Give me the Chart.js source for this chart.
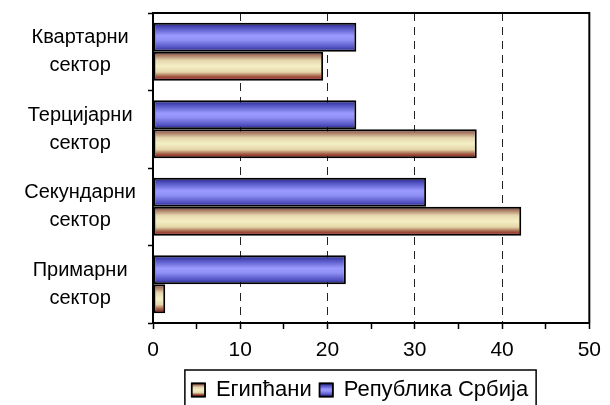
<!DOCTYPE html>
<html>
<head>
<meta charset="utf-8">
<script src="https://cdn.jsdelivr.net/npm/chart.js@4"></script>
<style>
  body { margin: 0; background: #fff; }
  #wrap { width: 610px; height: 405px; }
</style>
</head>
<body>
<div id="wrap"><canvas id="sectorChart"></canvas></div>
<script>
var sektori = [
  ["Квартарни", "сектор"],
  ["Терцијарни", "сектор"],
  ["Секундарни", "сектор"],
  ["Примарни", "сектор"]
];
var srbija = [23.3, 23.3, 31.3, 22.1];
var egipcani = [19.5, 37.1, 42.2, 1.4];

var blueStops = [[0, "#1a1a66"], [0.14, "#4848b8"], [0.45, "#9a9aff"], [0.6, "#9090f6"], [0.86, "#5050c0"], [1, "#1c1c76"]];
var creamStops = [[0, "#6a3628"], [0.12, "#a87a64"], [0.3, "#e6d8ae"], [0.5, "#f4efc6"], [0.7, "#e4d6a8"], [0.84, "#a4644c"], [1, "#8b0000"]];

function makeGrad(ctx, top, bottom, stops) {
  var g = ctx.createLinearGradient(0, top, 0, bottom);
  stops.forEach(function (s) { g.addColorStop(s[0], s[1]); });
  return g;
}

function barFill(stops, solid) {
  return function (context) {
    var el = context.element;
    if (!el || el.height == null || isNaN(el.y)) return solid;
    return makeGrad(context.chart.ctx, el.y - el.height / 2, el.y + el.height / 2, stops);
  };
}

var frame = {
  id: "frame",
  afterLayout: function (chart) {
    // legend sits under the plot, a bit right of the canvas centre
    var lg = chart.legend;
    if (!lg) return;
    var shift = 360 - (lg.left + lg.right) / 2;
    lg.left += shift;
    lg.right += shift;
  },
  afterDatasetsDraw: function (chart) {
    var a = chart.chartArea, c = chart.ctx;
    c.save();
    c.strokeStyle = "#000";
    c.lineWidth = 2;
    c.strokeRect(a.left, a.top, a.right - a.left, a.bottom - a.top);
    c.restore();
  },
  afterDraw: function (chart) {
    var lg = chart.legend, c = chart.ctx;
    if (!lg || !lg.legendHitBoxes || !lg.legendHitBoxes.length) return;
    var boxes = lg.legendHitBoxes;
    var items = lg.legendItems;
    var bw = 13, bh = 13;
    c.save();
    boxes.forEach(function (hb, i) {
      var y = hb.top + (hb.height - bh) / 2;
      var stops = items[i].text === "Египћани" ? creamStops : blueStops;
      c.fillStyle = makeGrad(c, y, y + bh, stops);
      c.fillRect(hb.left, y, bw, bh);
      c.lineWidth = 1.5;
      c.strokeStyle = "#000";
      c.strokeRect(hb.left, y, bw, bh);
    });
    var first = boxes[0], last = boxes[boxes.length - 1];
    c.lineWidth = 1.5;
    c.strokeRect(first.left - 7, 370, last.left + last.width - first.left + 15, 60);
    c.restore();
  }
};

var ctx = document.getElementById("sectorChart");

var myBarChart = new Chart(ctx, {
  type: "bar",
  data: {
    labels: sektori,
    datasets: [
      {
        label: "Република Србија",
        data: srbija,
        backgroundColor: barFill(blueStops, "#8a8af0"),
        borderColor: "#000",
        borderWidth: 2,
        borderSkipped: false
      },
      {
        label: "Египћани",
        data: egipcani,
        backgroundColor: barFill(creamStops, "#f0e8c0"),
        borderColor: "#000",
        borderWidth: 2,
        borderSkipped: false
      }
    ]
  },
  options: {
    indexAxis: "y",
    responsive: true,
    maintainAspectRatio: false,
    animation: false,
    layout: { padding: { top: 13, right: 12, left: 0, bottom: -6 } },
    datasets: { bar: { categoryPercentage: 0.75, barPercentage: 1 } },
    scales: {
      x: {
        min: 0,
        max: 50,
        afterFit: function (s) { s.height = 48; },
        ticks: {
          stepSize: 5,
          autoSkip: false,
          maxRotation: 0,
          padding: 9,
          color: "#000",
          font: { family: "Liberation Sans, Arial", size: 21 },
          callback: function (v) { return v % 10 === 0 ? v : ""; }
        },
        grid: {
          color: function (c) {
            var v = c.tick ? c.tick.value : 0;
            return (v % 10 === 0 && v > 0 && v < 50) ? "#222" : "rgba(0,0,0,0)";
          },
          lineWidth: 1,
          tickColor: "#000",
          tickLength: 6,
          tickWidth: 1.5
        },
        border: { display: true, color: "#000", width: 2, dash: [8, 6] }
      },
      y: {
        afterFit: function (s) {
          s.width = 153;
          s.paddingTop = 0;
          s.paddingBottom = 0;
        },
        ticks: {
          color: "#000",
          crossAlign: "center",
          padding: 12,
          font: { family: "Liberation Sans, Arial", size: 20, lineHeight: 1.38 }
        },
        grid: {
          drawOnChartArea: false,
          offset: true,
          tickColor: "#000",
          tickLength: 5,
          tickWidth: 1.5
        },
        border: { display: true, color: "#000", width: 2 }
      }
    },
    plugins: {
      legend: {
        position: "bottom",
        reverse: true,
        labels: {
          boxWidth: 13,
          boxHeight: 13,
          padding: 8,
          color: "#000",
          font: { family: "Liberation Sans, Arial", size: 22 }
        }
      },
      tooltip: { enabled: false }
    }
  },
  plugins: [frame]
});

myBarChart.update("none");
</script>
</body>
</html>
